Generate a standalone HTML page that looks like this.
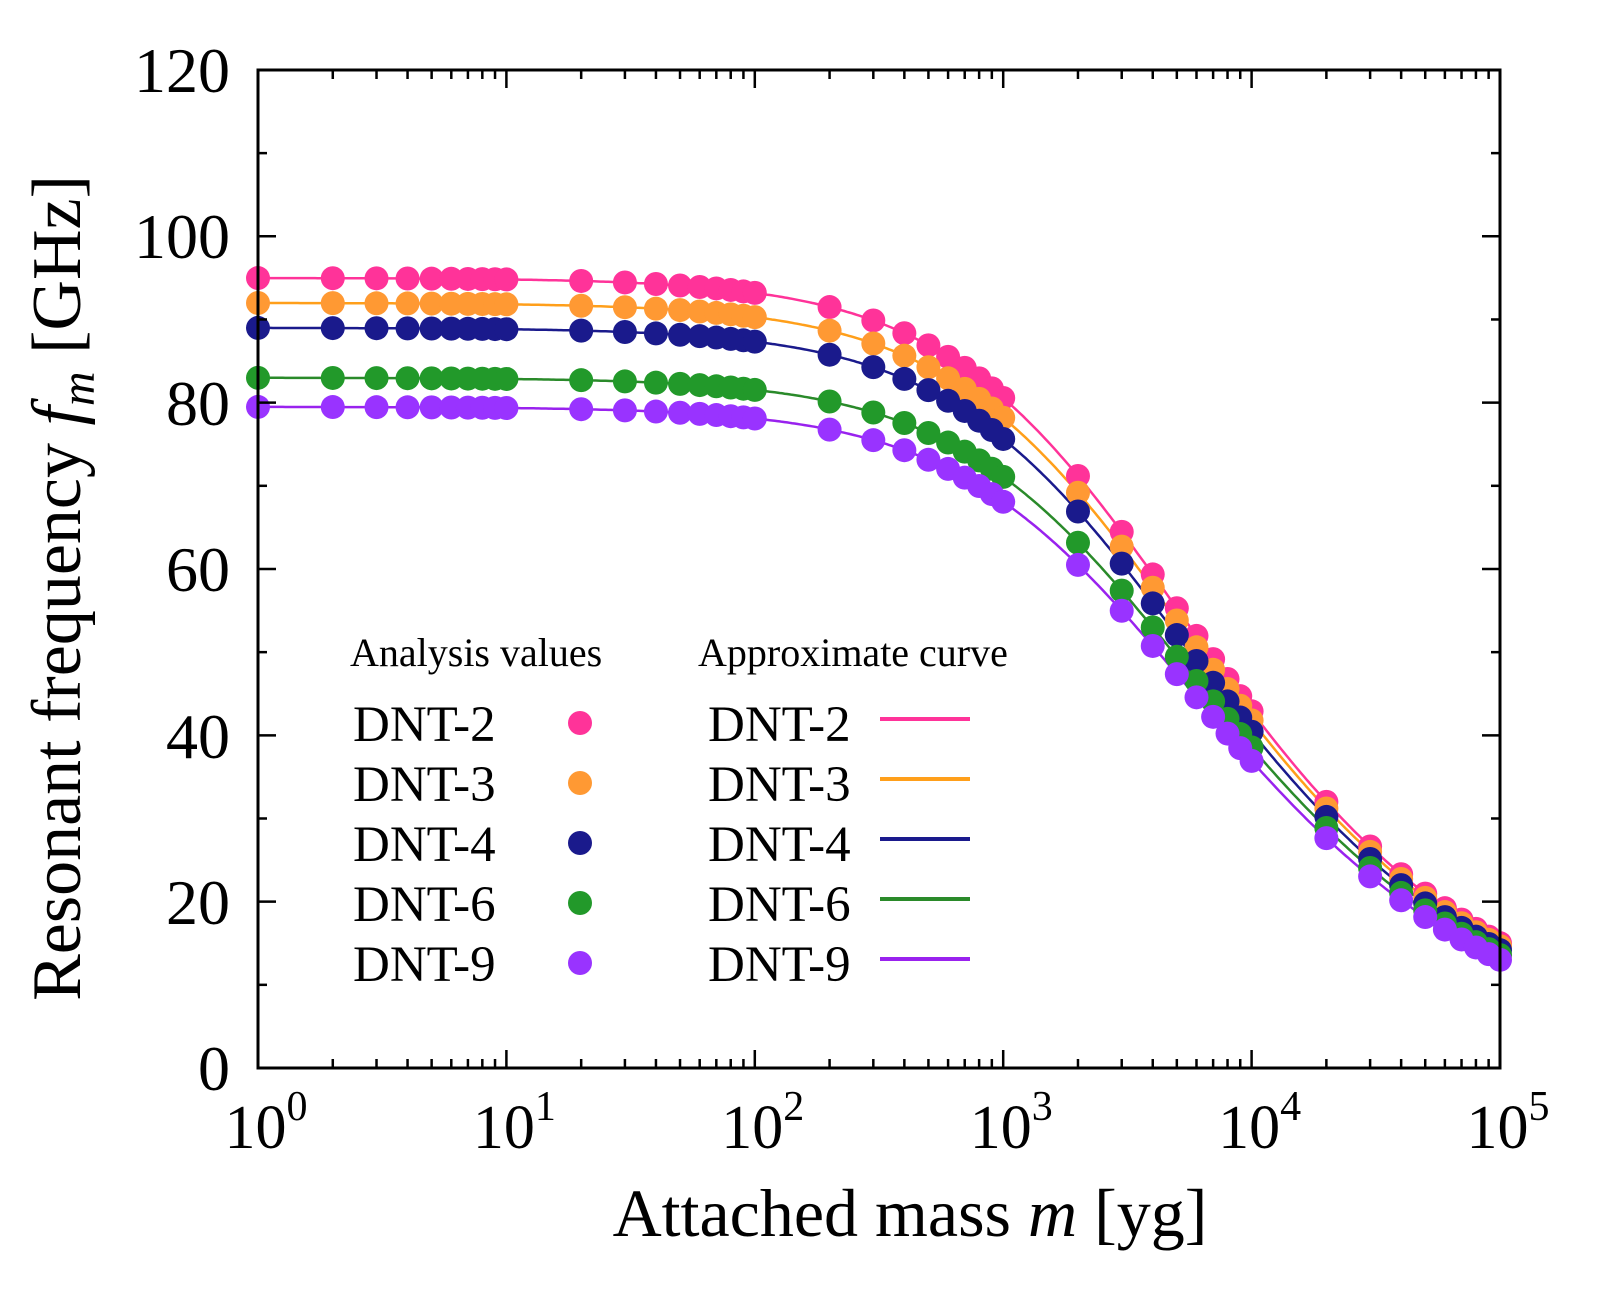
<!DOCTYPE html>
<html><head><meta charset="utf-8"><style>
html,body{margin:0;padding:0;background:#fff;}
svg{display:block;font-family:"Liberation Serif",serif;}
</style></head><body>
<svg id="s" width="1599" height="1302" viewBox="0 0 1599 1302" xmlns="http://www.w3.org/2000/svg">
<rect width="1599" height="1302" fill="#fff"/>
<g id="curves"></g>
<g id="pts"></g>
<g id="ticks" stroke="#000" stroke-width="2.5"></g>
<rect x="258" y="70" width="1242" height="998" fill="none" stroke="#000" stroke-width="3"/>
<g font-size="64" text-anchor="end" fill="#000">
<text x="230" y="1090">0</text><text x="230" y="924">20</text><text x="230" y="758">40</text>
<text x="230" y="591">60</text><text x="230" y="425">80</text><text x="230" y="258">100</text><text x="230" y="92">120</text>
</g>
<g font-size="62" fill="#000" text-anchor="middle" id="xl"></g>
<text x="910" y="1236" font-size="68" text-anchor="middle">Attached mass <tspan font-style="italic">m</tspan> [yg]</text>
<text transform="translate(80,588) rotate(-90)" font-size="70" text-anchor="middle">Resonant frequency <tspan font-style="italic">f</tspan><tspan font-style="italic" font-size="48" dy="14">m</tspan><tspan dy="-14">  [GHz]</tspan></text>
<g font-size="40"><text x="350" y="666">Analysis values</text><text x="698" y="666">Approximate curve</text></g>
<g id="leg" font-size="51"></g>
</svg>
<script>
var ns="http://www.w3.org/2000/svg",s=document.getElementById('s');
function el(p,t,a){var e=document.createElementNS(ns,t);for(var k in a)e.setAttribute(k,a[k]);document.getElementById(p).appendChild(e);return e;}
function X(m){return 258+Math.log10(m)*248.4;}
function Y(f){return 1068-f*8.317;}
var S=[["DNT-2",95,2560,"#ff3399","#ff3399"],["DNT-3",92,2600,"#ff9933","#ff9f1a"],["DNT-4",89,2600,"#1a1a8c","#1a1a8c"],["DNT-6",83,2750,"#22992a","#2a8a2a"],["DNT-9",79.5,2750,"#9933ff","#9922ee"]];
var ms=[];for(var d=0;d<5;d++)for(var k=1;k<10;k++)ms.push(k*Math.pow(10,d));ms.push(1e5);
S.forEach(function(c,i){
 var p="";for(var j=0;j<=500;j++){var m=Math.pow(10,j/100);p+=(j?"L":"M")+X(m).toFixed(1)+","+Y(c[1]/Math.sqrt(1+m/c[2])).toFixed(1);}
 el('curves','path',{d:p,fill:"none",stroke:c[4],"stroke-width":2.5});
 ms.forEach(function(m){el('pts','circle',{cx:X(m),cy:Y(c[1]/Math.sqrt(1+m/c[2])),r:12,fill:c[3]});});
 var y=723+i*60;
 el('leg','text',{x:353,y:y+18}).textContent=c[0];
 el('leg','circle',{cx:580,cy:y,r:12,fill:c[3]});
 el('leg','text',{x:708,y:y+18}).textContent=c[0];
 el('leg','line',{x1:880,x2:970,y1:y-4,y2:y-4,stroke:c[4],"stroke-width":4});
});
for(var v=0;v<=120;v+=10){var L=v%20?9:18,y=Y(v);
 el('ticks','line',{x1:258,x2:258+L,y1:y,y2:y});el('ticks','line',{x1:1500,x2:1500-L,y1:y,y2:y});}
ms.forEach(function(m){var lg=Math.log10(m),L=Math.abs(lg-Math.round(lg))<1e-9?18:9,x=X(m);
 el('ticks','line',{x1:x,x2:x,y1:1068,y2:1068-L});el('ticks','line',{x1:x,x2:x,y1:70,y2:70+L});});
for(var d=0;d<=5;d++){var t=el('xl','text',{x:X(Math.pow(10,d))+8,y:1148});t.innerHTML='10<tspan font-size="42" dy="-28">'+d+'</tspan>';}
</script>
</body></html>
